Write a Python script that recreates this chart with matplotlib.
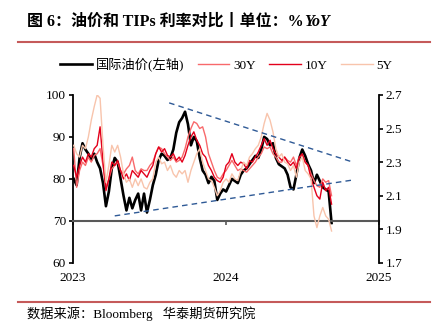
import pandas as pd
import numpy as np
import matplotlib.pyplot as plt
import matplotlib.dates as mdates

plt.rcParams['font.family'] = ['Liberation Serif', 'Noto Sans CJK SC']

# weekly samples, 2023-01-03 .. 2024-09-10
dates = pd.date_range('2023-01-03', periods=89, freq='7D')

oil = [80, 78.5, 85, 88.5, 87, 86, 84.5, 86, 84, 82.5,
       79, 73.5, 77, 82.5, 85, 84, 80, 76, 72.5, 75.5,
       73, 75, 76.5, 72.5, 76.5, 72, 75, 78.5, 81, 84.5,
       86, 85.5, 84.5, 85, 87, 91, 93.5, 94.5, 96, 93,
       88, 90, 89, 85, 82, 81, 79, 80.5, 79.5, 75,
       76.5, 77.5, 77, 78.5, 80, 79.5, 79, 81, 82, 82.5,
       83.5, 84.5, 85.5, 85, 87, 90, 89.5, 88, 88.5, 85,
       83.5, 83, 82.5, 81, 78, 77.5, 81, 85, 87, 85.5,
       83.5, 82, 79, 81, 79.5, 78, 77.5, 77, 69.5]

tips_30y = [2.38, 2.15, 2.25, 2.30, 2.28, 2.33, 2.30, 2.34, 2.35, 2.38,
            2.28, 2.15, 2.20, 2.26, 2.28, 2.30, 2.25, 2.23, 2.26, 2.28,
            2.33, 2.25, 2.23, 2.26, 2.25, 2.25, 2.28, 2.30, 2.35, 2.39,
            2.38, 2.35, 2.33, 2.31, 2.33, 2.30, 2.31, 2.33, 2.38, 2.45,
            2.50, 2.54, 2.53, 2.50, 2.51, 2.45, 2.35, 2.30, 2.25, 2.21,
            2.20, 2.23, 2.25, 2.28, 2.31, 2.28, 2.25, 2.26, 2.25, 2.24,
            2.26, 2.28, 2.30, 2.33, 2.35, 2.39, 2.38, 2.39, 2.35, 2.33,
            2.30, 2.30, 2.33, 2.31, 2.30, 2.33, 2.28, 2.33, 2.34, 2.30,
            2.28, 2.23, 2.19, 2.16, 2.15, 2.20, 2.18, 2.19, 2.10]

tips_10y = [2.28, 2.21, 2.28, 2.33, 2.30, 2.35, 2.33, 2.38, 2.40, 2.51,
            2.30, 2.13, 2.20, 2.30, 2.28, 2.31, 2.25, 2.20, 2.23, 2.19,
            2.25, 2.23, 2.21, 2.25, 2.23, 2.21, 2.25, 2.28, 2.35, 2.39,
            2.36, 2.38, 2.34, 2.33, 2.35, 2.31, 2.33, 2.30, 2.34, 2.40,
            2.45, 2.48, 2.43, 2.40, 2.35, 2.33, 2.28, 2.25, 2.21, 2.19,
            2.18, 2.21, 2.28, 2.30, 2.35, 2.30, 2.28, 2.30, 2.29, 2.26,
            2.31, 2.30, 2.33, 2.36, 2.40, 2.44, 2.40, 2.43, 2.38, 2.35,
            2.33, 2.31, 2.33, 2.30, 2.28, 2.30, 2.26, 2.33, 2.35, 2.30,
            2.28, 2.20, 2.15, 2.10, 2.08, 2.18, 2.13, 2.15, 2.05]

tips_5y = [2.40, 2.35, 2.33, 2.40, 2.38, 2.45, 2.55, 2.63, 2.70, 2.68,
           2.40, 2.18, 2.28, 2.40, 2.36, 2.40, 2.33, 2.23, 2.18, 2.20,
           2.15, 2.20, 2.16, 2.20, 2.15, 2.14, 2.18, 2.20, 2.30, 2.33,
           2.29, 2.30, 2.25, 2.28, 2.23, 2.21, 2.25, 2.23, 2.25, 2.18,
           2.25, 2.30, 2.35, 2.38, 2.30, 2.25, 2.20, 2.19, 2.15, 2.10,
           2.13, 2.18, 2.20, 2.18, 2.23, 2.20, 2.19, 2.25, 2.30, 2.28,
           2.33, 2.35, 2.38, 2.40, 2.45, 2.53, 2.59, 2.55, 2.48, 2.38,
           2.33, 2.35, 2.30, 2.29, 2.25, 2.28, 2.21, 2.30, 2.33, 2.25,
           2.23, 2.20, 1.98, 1.91, 1.98, 2.03, 1.98, 1.96, 1.89]

# hand-drawn trend lines (left axis units)
upper_dates = pd.to_datetime(['2023-08-19', '2024-10-31'])
upper_vals = [98.1, 84.0]
lower_dates = pd.to_datetime(['2023-04-11', '2024-11-04'])
lower_vals = [71.2, 79.8]

fig = plt.figure(figsize=(4.39, 3.25), dpi=100)
ax1 = fig.add_axes([0.166, 0.191, 0.697, 0.517])
ax2 = ax1.twinx()

l_oil, = ax1.plot(dates, oil, color='black', lw=1.9, label='国际油价(左轴)')
l30, = ax2.plot(dates, tips_30y, color='#f8696b', lw=1.0, label='30Y')
l10, = ax2.plot(dates, tips_10y, color='#e3001b', lw=1.0, label='10Y')
l5, = ax2.plot(dates, tips_5y, color='#f8c4ac', lw=1.0, label='5Y')

ax2.plot(upper_dates, upper_vals, transform=ax1.transData, color='#2f5a96',
         lw=1.0, ls=(0, (4, 3)), zorder=5)
ax2.plot(lower_dates, lower_vals, transform=ax1.transData, color='#2f5a96',
         lw=1.0, ls=(0, (4, 3)), zorder=5)

ax1.set_xlim(pd.Timestamp('2023-01-01'), pd.Timestamp('2025-01-01'))
ax1.set_ylim(60, 100)
ax2.set_ylim(1.7, 2.7)
ax1.set_yticks([60, 70, 80, 90, 100])
ax2.set_yticks([1.7, 1.9, 2.1, 2.3, 2.5, 2.7])
ax2.yaxis.set_major_formatter(plt.FormatStrFormatter('%.1f'))

ax1.xaxis.set_major_locator(mdates.YearLocator())
ax1.xaxis.set_major_formatter(mdates.DateFormatter('%Y'))

for a in (ax1, ax2):
    a.spines['top'].set_visible(False)
ax2.spines['bottom'].set_visible(False)
ax2.spines['left'].set_visible(False)
ax1.spines['right'].set_visible(False)
ax1.spines['left'].set_linewidth(1.3)
ax2.spines['right'].set_linewidth(1.3)
ax1.spines['bottom'].set_position(('data', 70))
ax1.spines['bottom'].set_color('#595959')
ax1.spines['bottom'].set_linewidth(1.5)

ax1.tick_params(axis='y', direction='out', length=3, width=1.2, labelsize=9.5, pad=2)
ax2.tick_params(axis='y', direction='out', length=3, width=1.2, labelsize=9.5, pad=2)
ax1.tick_params(axis='x', direction='out', length=3, width=1.2, color='#595959',
                labelsize=9.5, pad=34)

fig.legend([l_oil, l30, l10, l5], ['国际油价(左轴)', '30Y', '10Y', '5Y'],
           loc='center', bbox_to_anchor=(0.516, 0.80), ncol=4, frameon=False,
           fontsize=9.5, handlelength=2.4, handletextpad=0.3, columnspacing=1.0)

t1 = fig.text(0.062, 0.932, '图 6：油价和 TIPs 利率对比丨单位：%', fontsize=11.5,
              fontweight='bold', va='center')
ax1.annotate('YoY', xy=(1, 0), xycoords=t1, va='bottom', ha='left',
             fontsize=11.5, fontweight='bold', fontstyle='italic',
             annotation_clip=False)

fig.add_artist(plt.Line2D([0.041, 0.979], [0.871, 0.871], color='#c55a5a', lw=1.5))
fig.add_artist(plt.Line2D([0.041, 0.979], [0.071, 0.071], color='#c55a5a', lw=1.5))
fig.text(0.062, 0.034, '数据来源：Bloomberg   华泰期货研究院', fontsize=9.5, va='center')

fig.savefig('out.png', dpi=100)
